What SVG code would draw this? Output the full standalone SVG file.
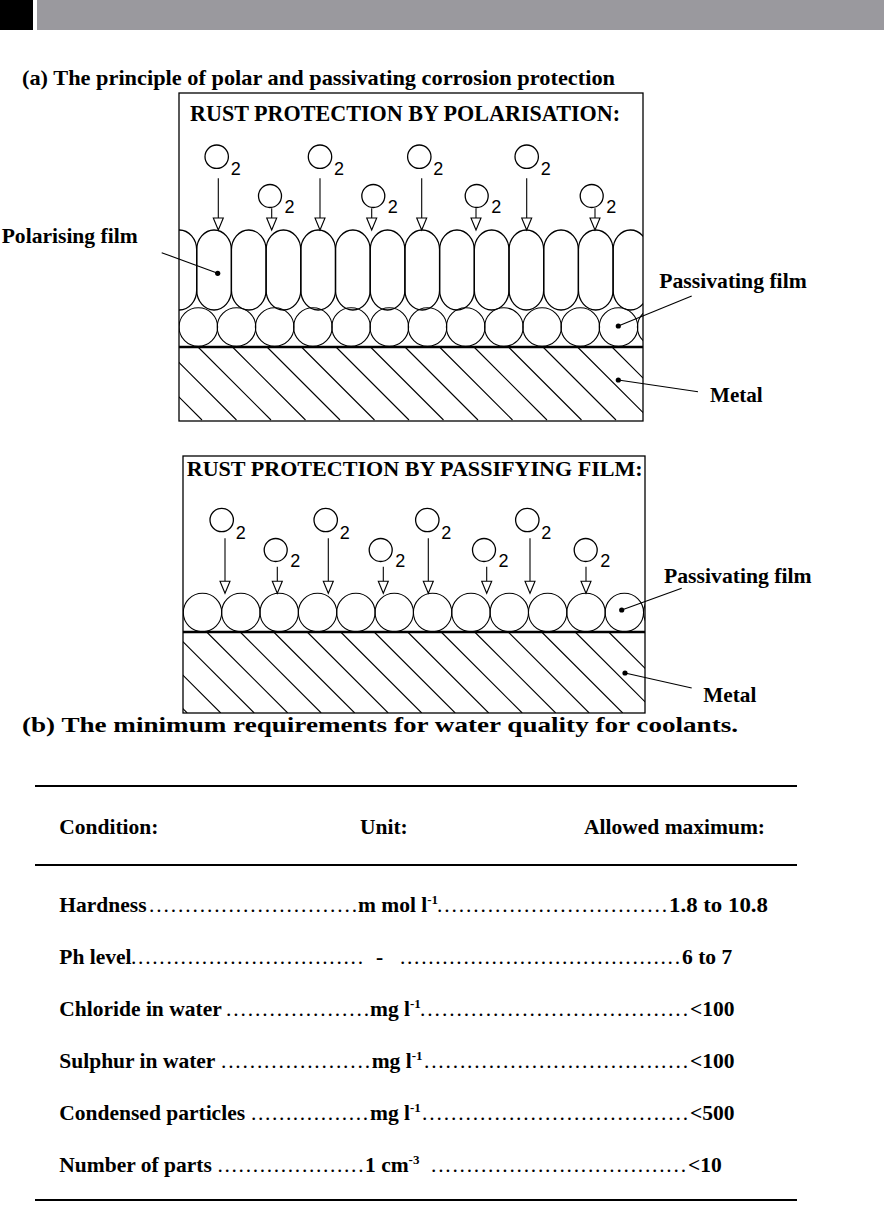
<svg xmlns="http://www.w3.org/2000/svg" xmlns:xlink="http://www.w3.org/1999/xlink" width="884" height="1205" viewBox="0 0 884 1205">
<style>
.t{font-family:'Liberation Serif','Times New Roman',serif;font-weight:bold;fill:#000}
.d{font-family:'Liberation Serif','Times New Roman',serif;font-weight:normal;fill:#000}
.s{font-family:'Liberation Sans',Arial,sans-serif;font-size:18px;fill:#000}
.ln{stroke:#000;stroke-width:1.3;fill:none}
.thin{stroke:#000;stroke-width:1.1;fill:none}
.ah{fill:#fff;stroke:#000;stroke-width:1.1}
.rule{stroke:#000;stroke-width:2}
</style>
<defs>
<path id="ah" class="ah" d="M-5,-12 L5,-12 L0,0 Z"/>
<clipPath id="c1"><rect x="179" y="93" width="464" height="328"/></clipPath>
<clipPath id="c2"><rect x="183" y="456" width="462" height="257"/></clipPath>
</defs>
<rect width="884" height="1205" fill="#fff"/>
<g id="header">
<rect x="0" y="0" width="33" height="30" fill="#000"/>
<rect x="37" y="0" width="847" height="30" fill="#9a999e"/>
</g>
<text class="t" x="22" y="85" font-size="22" textLength="593" lengthAdjust="spacingAndGlyphs">(a) The principle of polar and passivating corrosion protection</text>

<g id="box-polarisation">
<g clip-path="url(#c1)">
<g class="ln">
<rect x="162" y="230" width="34.7" height="80" rx="17.3" ry="20"/>
<rect x="196.7" y="230" width="34.7" height="80" rx="17.3" ry="20"/>
<rect x="231.4" y="230" width="34.7" height="80" rx="17.3" ry="20"/>
<rect x="266.1" y="230" width="34.7" height="80" rx="17.3" ry="20"/>
<rect x="300.8" y="230" width="34.7" height="80" rx="17.3" ry="20"/>
<rect x="335.5" y="230" width="34.7" height="80" rx="17.3" ry="20"/>
<rect x="370.2" y="230" width="34.7" height="80" rx="17.3" ry="20"/>
<rect x="404.9" y="230" width="34.7" height="80" rx="17.3" ry="20"/>
<rect x="439.6" y="230" width="34.7" height="80" rx="17.3" ry="20"/>
<rect x="474.3" y="230" width="34.7" height="80" rx="17.3" ry="20"/>
<rect x="509" y="230" width="34.7" height="80" rx="17.3" ry="20"/>
<rect x="543.7" y="230" width="34.7" height="80" rx="17.3" ry="20"/>
<rect x="578.4" y="230" width="34.7" height="80" rx="17.3" ry="20"/>
<rect x="613.1" y="230" width="34.7" height="80" rx="17.3" ry="20"/>
</g>
<g class="thin">
<circle cx="198.3" cy="327" r="19.3"/><circle cx="236.5" cy="327" r="19.3"/><circle cx="274.7" cy="327" r="19.3"/>
<circle cx="312.9" cy="327" r="19.3"/><circle cx="351.1" cy="327" r="19.3"/><circle cx="389.3" cy="327" r="19.3"/>
<circle cx="427.5" cy="327" r="19.3"/><circle cx="465.7" cy="327" r="19.3"/><circle cx="503.9" cy="327" r="19.3"/>
<circle cx="542.1" cy="327" r="19.3"/><circle cx="580.3" cy="327" r="19.3"/><circle cx="618.5" cy="327" r="19.3"/>
<circle cx="656.7" cy="327" r="19.3"/>
</g>
<path class="thin" d="M94.5,347 l73,73 M129,347 l73,73 M163.5,347 l73,73 M198,347 l73,73 M232.5,347 l73,73 M267,347 l73,73 M301.5,347 l73,73 M336,347 l73,73 M370.5,347 l73,73 M405,347 l73,73 M439.5,347 l73,73 M474,347 l73,73 M508.5,347 l73,73 M543,347 l73,73 M577.5,347 l73,73 M612,347 l73,73"/>
</g>
<line x1="179" y1="347" x2="643" y2="347" stroke="#000" stroke-width="2.5"/>
<rect x="179" y="93" width="464" height="328" class="ln" stroke-width="1.6"/>
<text class="t" x="190" y="121" font-size="22.5" textLength="430" lengthAdjust="spacingAndGlyphs">RUST PROTECTION BY POLARISATION:</text>
<g class="ln">
<circle cx="216.7" cy="156.7" r="11.7"/><circle cx="320" cy="156.7" r="11.7"/><circle cx="419.3" cy="156.7" r="11.7"/><circle cx="526.7" cy="156.7" r="11.7"/>
<circle cx="270" cy="196" r="11.5"/><circle cx="373.3" cy="196" r="11.5"/><circle cx="476.7" cy="196" r="11.5"/><circle cx="591.7" cy="196" r="11.5"/>
</g>
<text class="s" x="230.7" y="175">2</text><text class="s" x="334" y="175">2</text><text class="s" x="433.3" y="175">2</text><text class="s" x="540.7" y="175">2</text>
<text class="s" x="284.5" y="212.5">2</text><text class="s" x="387.8" y="212.5">2</text><text class="s" x="491.2" y="212.5">2</text><text class="s" x="606.2" y="212.5">2</text>
</g>

<g id="box-passifying">
<g clip-path="url(#c2)">
<g class="thin">
<circle cx="202.5" cy="612.5" r="19.2"/><circle cx="240.85" cy="612.5" r="19.2"/><circle cx="279.2" cy="612.5" r="19.2"/>
<circle cx="317.55" cy="612.5" r="19.2"/><circle cx="355.9" cy="612.5" r="19.2"/><circle cx="394.25" cy="612.5" r="19.2"/>
<circle cx="432.6" cy="612.5" r="19.2"/><circle cx="470.95" cy="612.5" r="19.2"/><circle cx="509.3" cy="612.5" r="19.2"/>
<circle cx="547.65" cy="612.5" r="19.2"/><circle cx="586" cy="612.5" r="19.2"/><circle cx="624.35" cy="612.5" r="19.2"/>
<circle cx="662.7" cy="612.5" r="19.2"/>
</g>
<path class="thin" d="M106.2,632 l81,81 M139.7,632 l81,81 M173.2,632 l81,81 M206.7,632 l81,81 M240.2,632 l81,81 M273.7,632 l81,81 M307.2,632 l81,81 M340.7,632 l81,81 M374.2,632 l81,81 M407.7,632 l81,81 M441.2,632 l81,81 M474.7,632 l81,81 M508.2,632 l81,81 M541.7,632 l81,81 M575.2,632 l81,81 M608.7,632 l81,81"/>
</g>
<line x1="183" y1="632" x2="645" y2="632" stroke="#000" stroke-width="2.5"/>
<rect x="183" y="456" width="462" height="257" class="ln" stroke-width="1.6"/>
<text class="t" x="186.7" y="476" font-size="22" textLength="456" lengthAdjust="spacingAndGlyphs">RUST PROTECTION BY PASSIFYING FILM:</text>
<g class="ln">
<circle cx="221.7" cy="520" r="11.7"/><circle cx="325.7" cy="520" r="11.7"/><circle cx="427.3" cy="520" r="11.7"/><circle cx="527.3" cy="520" r="11.7"/>
<circle cx="275.7" cy="550" r="11.5"/><circle cx="380.7" cy="550" r="11.5"/><circle cx="484" cy="550" r="11.5"/><circle cx="585.7" cy="550" r="11.5"/>
</g>
<text class="s" x="235.7" y="538.5">2</text><text class="s" x="339.7" y="538.5">2</text><text class="s" x="441.3" y="538.5">2</text><text class="s" x="541.3" y="538.5">2</text>
<text class="s" x="290.2" y="566.5">2</text><text class="s" x="395.2" y="566.5">2</text><text class="s" x="498.5" y="566.5">2</text><text class="s" x="600.2" y="566.5">2</text>
</g>

<g id="connectors">
<g class="thin">
<line x1="218.3" y1="178.3" x2="218.3" y2="218"/><line x1="320" y1="178.3" x2="320" y2="218"/><line x1="421.7" y1="178.3" x2="421.7" y2="218"/><line x1="526.7" y1="178.3" x2="526.7" y2="218"/>
<line x1="271.7" y1="208.3" x2="271.7" y2="218"/><line x1="371.7" y1="208.3" x2="371.7" y2="218"/><line x1="476" y1="208.3" x2="476" y2="218"/><line x1="595" y1="208.3" x2="595" y2="218"/>
<line x1="225" y1="538.3" x2="225" y2="581.3"/><line x1="328.3" y1="538.3" x2="328.3" y2="581.3"/><line x1="428.3" y1="538.3" x2="428.3" y2="581.3"/><line x1="530" y1="538.3" x2="530" y2="581.3"/>
<line x1="277.3" y1="566.7" x2="277.3" y2="581.3"/><line x1="383.3" y1="566.7" x2="383.3" y2="581.3"/><line x1="486.7" y1="566.7" x2="486.7" y2="581.3"/><line x1="586" y1="566.7" x2="586" y2="581.3"/>
</g>
<use xlink:href="#ah" href="#ah" x="218.3" y="230"/><use xlink:href="#ah" href="#ah" x="320" y="230"/><use xlink:href="#ah" href="#ah" x="421.7" y="230"/><use xlink:href="#ah" href="#ah" x="526.7" y="230"/>
<use xlink:href="#ah" href="#ah" x="271.7" y="230"/><use xlink:href="#ah" href="#ah" x="371.7" y="230"/><use xlink:href="#ah" href="#ah" x="476" y="230"/><use xlink:href="#ah" href="#ah" x="595" y="230"/>
<use xlink:href="#ah" href="#ah" x="225" y="593.3"/><use xlink:href="#ah" href="#ah" x="328.3" y="593.3"/><use xlink:href="#ah" href="#ah" x="428.3" y="593.3"/><use xlink:href="#ah" href="#ah" x="530" y="593.3"/>
<use xlink:href="#ah" href="#ah" x="277.3" y="593.3"/><use xlink:href="#ah" href="#ah" x="383.3" y="593.3"/><use xlink:href="#ah" href="#ah" x="486.7" y="593.3"/><use xlink:href="#ah" href="#ah" x="586" y="593.3"/>
<g class="thin">
<line x1="161.7" y1="252.7" x2="217.7" y2="273.3"/>
<line x1="691.7" y1="296" x2="618.3" y2="326"/>
<line x1="698" y1="391.7" x2="618.3" y2="380"/>
<line x1="681.7" y1="588.3" x2="621.7" y2="610"/>
<line x1="691.7" y1="688" x2="625" y2="673"/>
</g>
<circle cx="217.7" cy="273.3" r="2.6"/><circle cx="618.3" cy="326" r="2.6"/><circle cx="618.3" cy="380" r="2.6"/><circle cx="621.7" cy="610" r="2.6"/><circle cx="625" cy="673" r="2.6"/>
</g>

<g id="labels">
<text class="t" x="1.7" y="243.3" font-size="21" textLength="136" lengthAdjust="spacingAndGlyphs">Polarising film</text>
<text class="t" x="659.3" y="288.3" font-size="21" textLength="147.4" lengthAdjust="spacingAndGlyphs">Passivating film</text>
<text class="t" x="710" y="401.7" font-size="21" textLength="52.7" lengthAdjust="spacingAndGlyphs">Metal</text>
<text class="t" x="664" y="583" font-size="21" textLength="147.7" lengthAdjust="spacingAndGlyphs">Passivating film</text>
<text class="t" x="703.3" y="701.7" font-size="21" textLength="53" lengthAdjust="spacingAndGlyphs">Metal</text>
</g>

<text class="t" x="22" y="732" font-size="22" textLength="716" lengthAdjust="spacingAndGlyphs">(b) The minimum requirements for water quality for coolants.</text>

<g id="table" font-size="21.5">
<line class="rule" x1="35" y1="786" x2="797" y2="786"/>
<line class="rule" x1="35" y1="865" x2="797" y2="865"/>
<line class="rule" x1="35" y1="1200" x2="797" y2="1200"/>
<text class="t" x="59.3" y="834">Condition:</text>
<text class="t" x="360" y="834">Unit:</text>
<text class="t" x="584" y="834">Allowed maximum:</text>

<text class="t" x="59.3" y="912">Hardness</text>
<text class="d" x="149" y="912" textLength="208" lengthAdjust="spacing">.............................</text>
<text class="t" x="358" y="912">m mol l<tspan font-size="13" dy="-8">-1</tspan></text>
<text class="d" x="437" y="912" textLength="230" lengthAdjust="spacing">................................</text>
<text class="t" x="669" y="912" textLength="99" lengthAdjust="spacingAndGlyphs">1.8 to 10.8</text>

<text class="t" x="59.3" y="964">Ph level</text>
<text class="d" x="131" y="964" textLength="232" lengthAdjust="spacing">.................................</text>
<text class="t" x="376" y="964">-</text>
<text class="d" x="400" y="964" textLength="280" lengthAdjust="spacing">........................................</text>
<text class="t" x="682" y="964">6 to 7</text>

<text class="t" x="59.3" y="1016">Chloride in water</text>
<text class="d" x="226" y="1016" textLength="143" lengthAdjust="spacing">....................</text>
<text class="t" x="370" y="1016">mg l<tspan font-size="13" dy="-8">-1</tspan></text>
<text class="d" x="420" y="1016" textLength="268" lengthAdjust="spacing">.....................................</text>
<text class="t" x="690" y="1016">&lt;100</text>

<text class="t" x="59.3" y="1068">Sulphur in water</text>
<text class="d" x="221" y="1068" textLength="149" lengthAdjust="spacing">.....................</text>
<text class="t" x="371.7" y="1068">mg l<tspan font-size="13" dy="-8">-1</tspan></text>
<text class="d" x="424" y="1068" textLength="264" lengthAdjust="spacing">.....................................</text>
<text class="t" x="690" y="1068">&lt;100</text>

<text class="t" x="59.3" y="1120">Condensed particles</text>
<text class="d" x="251" y="1120" textLength="117" lengthAdjust="spacing">.................</text>
<text class="t" x="370" y="1120">mg l<tspan font-size="13" dy="-8">-1</tspan></text>
<text class="d" x="422" y="1120" textLength="266" lengthAdjust="spacing">.....................................</text>
<text class="t" x="690" y="1120">&lt;500</text>

<text class="t" x="59.3" y="1172">Number of parts</text>
<text class="d" x="217.5" y="1172" textLength="146" lengthAdjust="spacing">.....................</text>
<text class="t" x="365" y="1172">1 cm<tspan font-size="13" dy="-8">-3</tspan></text>
<text class="d" x="431" y="1172" textLength="255" lengthAdjust="spacing">....................................</text>
<text class="t" x="688" y="1172">&lt;10</text>
</g>
</svg>
